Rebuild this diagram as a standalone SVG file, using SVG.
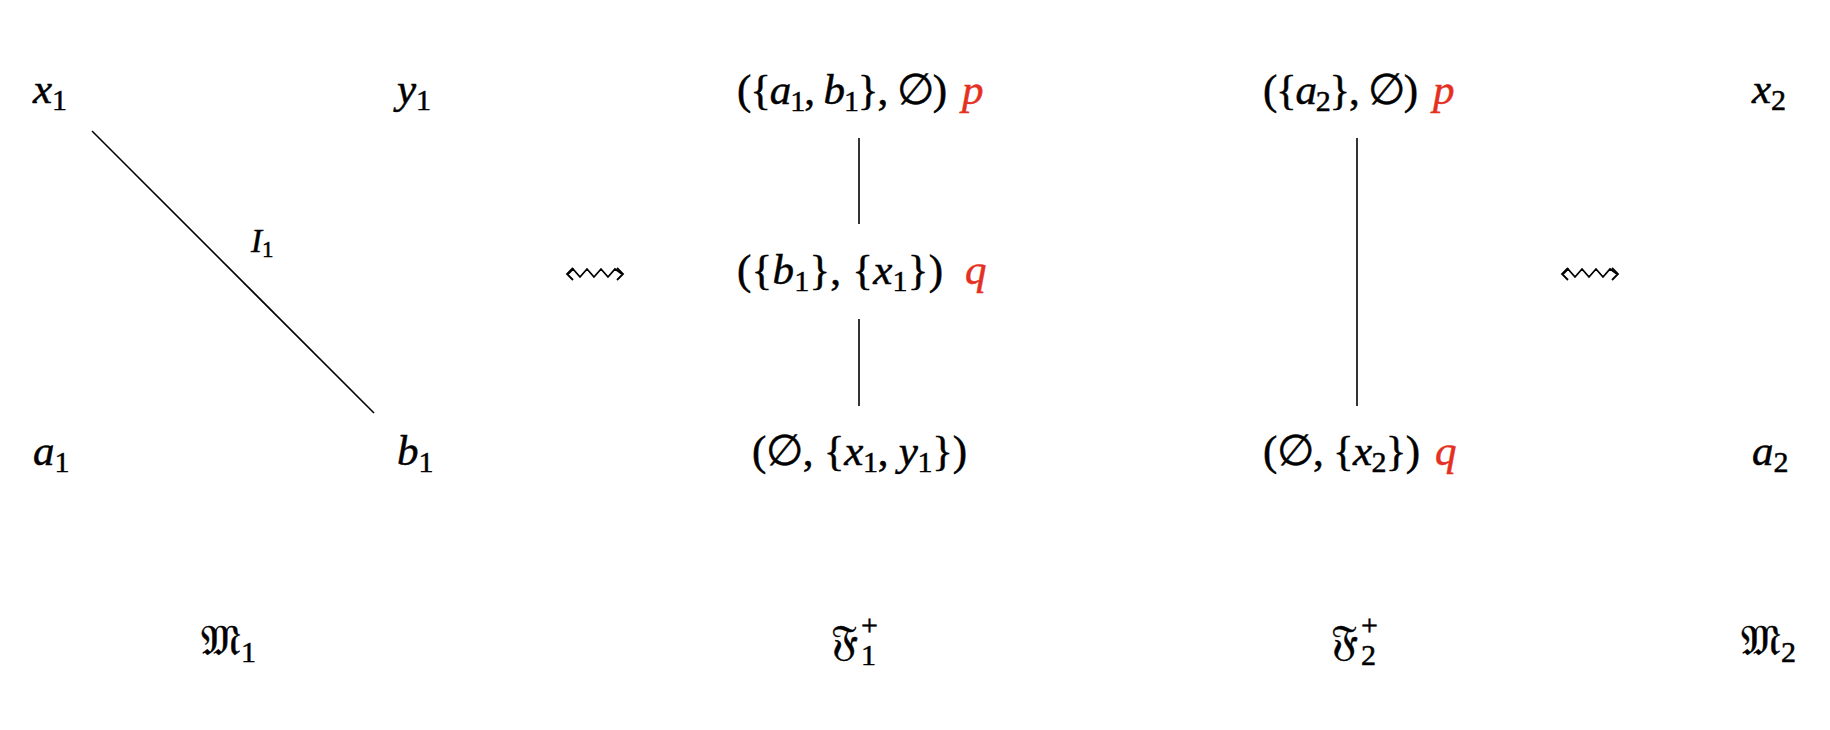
<svg xmlns="http://www.w3.org/2000/svg" width="1830" height="730" viewBox="0 0 1830 730">
<style>
.m{font-family:"Liberation Serif","Times New Roman",serif;font-size:43px;fill:#000;stroke:#000;stroke-width:0.5}
.i{font-style:italic}
.s{font-size:30px;font-style:normal}
.red{fill:#e5301f;stroke:#e5301f;font-style:italic}
.lbl{font-size:33px}
.ls{font-size:23px;font-style:normal}
.ln{stroke:#000;stroke-width:1.6;fill:none}
.sq{stroke:#000;stroke-width:1.8;fill:none;stroke-linejoin:miter}
</style>
<rect width="1830" height="730" fill="#fff"/>

<g id="connectors">
<line class="ln" x1="92" y1="131" x2="374" y2="413"/>
<line class="ln" x1="859" y1="138" x2="859" y2="224"/>
<line class="ln" x1="859" y1="319" x2="859" y2="406"/>
<line class="ln" x1="1357" y1="138" x2="1357" y2="406"/>
<text class="m i lbl" x="251" y="252">I<tspan class="ls" dy="5">1</tspan></text>
</g>

<g id="equivalences">
<g id="sq1">
<path class="sq" d="M568,274 L573,269 L580,277 L587,269 L594,277 L601,269 L608,277 L615,269 L622,274"/>
<path class="sq" d="M573,268 L567,274 L573,280"/>
<path class="sq" d="M617,268 L623,274 L617,280"/>
</g>
<g id="sq2">
<path class="sq" d="M1563,274 L1568,269 L1575,277 L1582,269 L1589,277 L1596,269 L1603,277 L1610,269 L1617,274"/>
<path class="sq" d="M1568,268 L1562,274 L1568,280"/>
<path class="sq" d="M1612,268 L1618,274 L1612,280"/>
</g>
</g>

<g id="M1">
<g id="x1"><text class="m i" x="33" y="103">x<tspan class="s" dy="7">1</tspan></text></g>
<g id="y1"><text class="m i" x="397" y="103">y<tspan class="s" dy="7">1</tspan></text></g>
<g id="a1"><text class="m i" x="33" y="465">a<tspan class="s" dy="7">1</tspan></text></g>
<g id="b1"><text class="m i" x="397" y="465">b<tspan class="s" dy="7">1</tspan></text></g>
<g id="M1-label"><text class="m" x="201" y="655">𝔐<tspan class="s" dy="7">1</tspan></text></g>
</g>

<g id="F1">
<g id="F1-top">
<text class="m" x="737" y="104" textLength="210" lengthAdjust="spacing">({<tspan class="i">a</tspan><tspan class="s" dy="7">1</tspan><tspan dy="-7">, </tspan><tspan class="i">b</tspan><tspan class="s" dy="7">1</tspan><tspan dy="-7">}, ∅)</tspan></text>
<text class="m red" x="962" y="104">p</text>
</g>
<g id="F1-mid">
<text class="m" x="737" y="284" textLength="206" lengthAdjust="spacing">({<tspan class="i">b</tspan><tspan class="s" dy="7">1</tspan><tspan dy="-7">}, {</tspan><tspan class="i">x</tspan><tspan class="s" dy="7">1</tspan><tspan dy="-7">})</tspan></text>
<text class="m red" x="965" y="284">q</text>
</g>
<g id="F1-bot">
<text class="m" x="752" y="465" textLength="215" lengthAdjust="spacing">(∅, {<tspan class="i">x</tspan><tspan class="s" dy="7">1</tspan><tspan dy="-7">, </tspan><tspan class="i">y</tspan><tspan class="s" dy="7">1</tspan><tspan dy="-7">})</tspan></text>
</g>
<g id="F1-label"><text class="m" x="831" y="655">𝔉<tspan class="s" x="861" dy="-20">+</tspan><tspan class="s" x="861" dy="30">1</tspan></text></g>
</g>

<g id="F2">
<g id="F2-top">
<text class="m" x="1263" y="104" textLength="155" lengthAdjust="spacing">({<tspan class="i">a</tspan><tspan class="s" dy="7">2</tspan><tspan dy="-7">}, ∅)</tspan></text>
<text class="m red" x="1433" y="104">p</text>
</g>
<g id="F2-bot">
<text class="m" x="1263" y="465" textLength="157" lengthAdjust="spacing">(∅, {<tspan class="i">x</tspan><tspan class="s" dy="7">2</tspan><tspan dy="-7">})</tspan></text>
<text class="m red" x="1435" y="465">q</text>
</g>
<g id="F2-label"><text class="m" x="1331" y="655">𝔉<tspan class="s" x="1361" dy="-20">+</tspan><tspan class="s" x="1361" dy="30">2</tspan></text></g>
</g>

<g id="M2">
<g id="x2"><text class="m i" x="1752" y="103">x<tspan class="s" dy="7">2</tspan></text></g>
<g id="a2"><text class="m i" x="1752" y="465">a<tspan class="s" dy="7">2</tspan></text></g>
<g id="M2-label"><text class="m" x="1741" y="655">𝔐<tspan class="s" dy="7">2</tspan></text></g>
</g>
</svg>
